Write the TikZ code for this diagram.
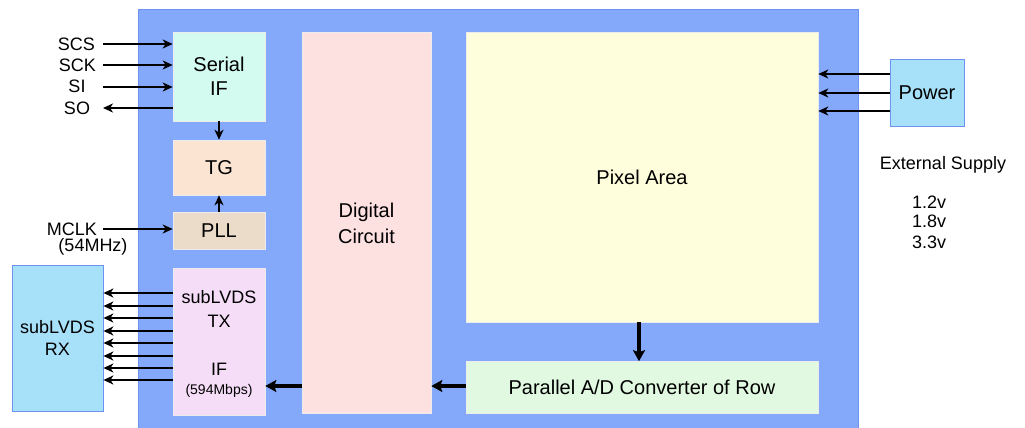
\documentclass[tikz,border=0pt]{standalone}
\usepackage{fontspec}
\setmainfont{Liberation Sans}
\usetikzlibrary{arrows.meta}
\definecolor{chipblue}{HTML}{85A9FA}
\definecolor{chipedge}{HTML}{6E92F2}
\definecolor{serialc}{HTML}{D4FBEF}
\definecolor{tgc}{HTML}{FBE4D2}
\definecolor{pllc}{HTML}{EBDCCA}
\definecolor{txc}{HTML}{F5DDF7}
\definecolor{digc}{HTML}{FDE1E1}
\definecolor{pixc}{HTML}{FEFEDC}
\definecolor{adc}{HTML}{E1F9E1}
\definecolor{extc}{HTML}{A6E0F9}
\tikzset{
  blk/.style={draw=white!85!gray, line width=0.6pt, inner sep=0pt, align=center, font=\fontsize{20}{24}\selectfont},
  ext/.style={draw=chipedge, fill=extc, line width=0.8pt, inner sep=0pt, align=center, font=\fontsize{18}{22}\selectfont},
  sig/.style={line width=2pt, -{Stealth[length=10pt,width=9pt,inset=3pt]}},
  bus/.style={line width=3.5pt, -{Stealth[length=11pt,width=12pt,inset=2pt]}},
  lbl/.style={font=\fontsize{18}{22}\selectfont, inner sep=0pt},
}
\begin{document}
\begin{tikzpicture}[x=1pt,y=-1pt]
\useasboundingbox (0,0) rectangle (1025,428);
% chip
\filldraw[fill=chipblue, draw=chipedge, line width=1pt] (138,10) rectangle (858,432);
% blocks
\node[blk, fill=serialc, minimum width=92pt, minimum height=89pt] (ser) at (219,76.5) {Serial\\IF};
\node[blk, fill=tgc, minimum width=92pt, minimum height=55pt] (tg) at (219,167.5) {TG};
\node[blk, fill=pllc, minimum width=92pt, minimum height=37pt] (pll) at (219,230.5) {PLL};
\node[blk, fill=txc, minimum width=92pt, minimum height=147pt] (tx) at (219,341.5) {};
\node[lbl] (txa) at (219,297) {subLVDS};
\node[lbl] (txb) at (219,321) {TX};
\node[lbl] (txc) at (219,369) {IF};
\node[lbl, font=\fontsize{14}{16}\selectfont] (txd) at (219,391) {(594Mbps)};
\node[blk, fill=digc, minimum width=129pt, minimum height=381pt] (dig) at (366.5,222.5) {};
\node[lbl, font=\fontsize{20}{24}\selectfont] (diga) at (366.5,212) {Digital};
\node[lbl, font=\fontsize{20}{24}\selectfont] (digb) at (366.5,236) {Circuit};
\node[blk, fill=pixc, minimum width=352pt, minimum height=290pt] (pix) at (642,177) {Pixel Area};
\node[blk, fill=adc, minimum width=352pt, minimum height=52pt] (ad) at (642,387.5) {Parallel A/D Converter of Row};
% external
\node[ext, minimum width=91pt, minimum height=146pt] (rx) at (57.5,338) {subLVDS\\RX};
\node[ext, font=\fontsize{20}{24}\selectfont, minimum width=74pt, minimum height=67pt] (pw) at (927,92.5) {Power};
% serial signals
\node[lbl, anchor=east] (scs) at (95,44) {SCS};
\node[lbl, anchor=east] (sck) at (96,65) {SCK};
\node[lbl] (si) at (77,86) {SI};
\node[lbl] (so) at (77,108) {SO};
\coordinate (scsS) at (103,44);
\coordinate (sckS) at (103,65);
\coordinate (siS) at (103,87);
\coordinate (soE) at (103,108);
\draw[sig] (scsS) -- (scsS -| ser.west);
\draw[sig] (sckS) -- (sckS -| ser.west);
\draw[sig] (siS) -- (siS -| ser.west);
\draw[sig] (soE -| ser.west) -- (soE);
\draw[sig] (ser.south) -- (tg.north);
\draw[sig] (pll.north) -- (tg.south);
% mclk
\node[lbl] (mclk) at (72,229) {MCLK};
\node[lbl] (mhz) at (93,247) {(54MHz)};
\coordinate (mclkS) at (103,229);
\draw[sig] (mclkS) -- (mclkS -| pll.west);
% subLVDS lanes
\foreach \y [count=\k] in {293,306,318,331,343,356,368,380} {
  \coordinate (lane\k) at (173,\y);
  \draw[sig] (lane\k) -- (lane\k -| rx.east);
}
% power
\foreach \y [count=\k] in {74,93,111} {
  \coordinate (pwr\k) at (890,\y);
  \draw[sig] (pwr\k) -- (pwr\k -| pix.east);
}
\node[lbl] (extsup) at (943,165) {External Supply};
\node[lbl] (v1) at (929,202) {1.2v};
\node[lbl] (v2) at (929,221) {1.8v};
\node[lbl] (v3) at (929,242) {3.3v};
% data path
\draw[bus] (pix.south -| 639,0) -- (ad.north -| 639,0);
\draw[bus] (ad.west |- 0,386) -- (dig.east |- 0,386);
\draw[bus] (dig.west |- 0,386) -- (tx.east |- 0,386);
\end{tikzpicture}
\end{document}
